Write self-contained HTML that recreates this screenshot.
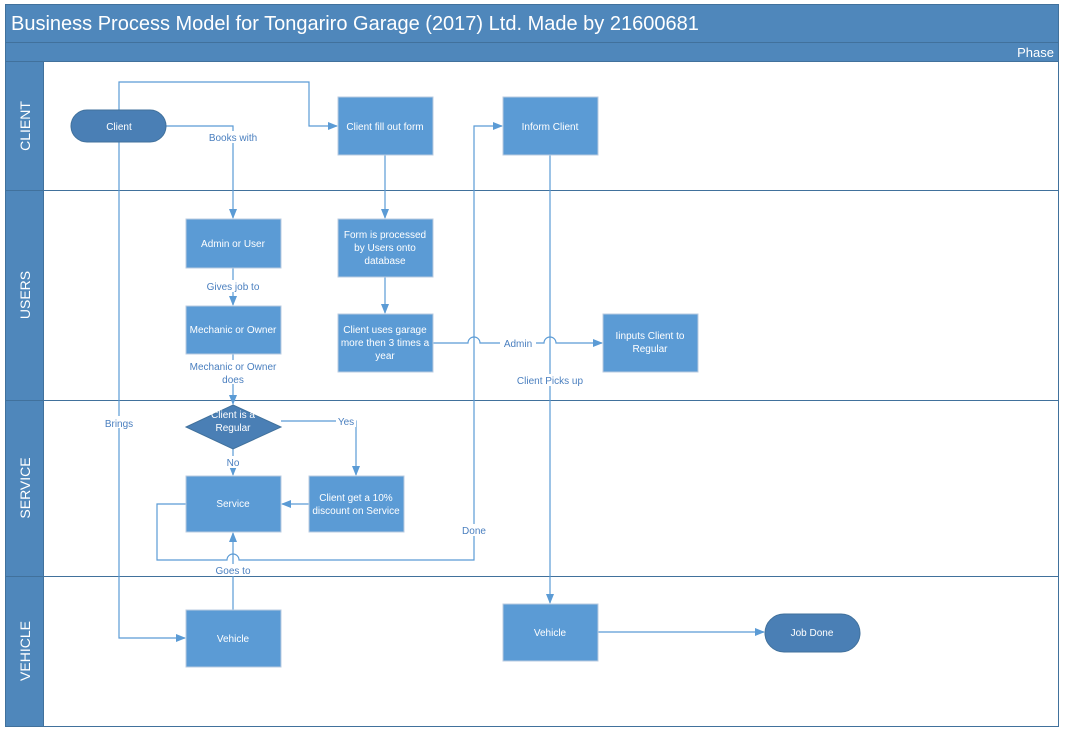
<!DOCTYPE html>
<html><head><style>
body{margin:0;background:#fff;}
svg{display:block;font-family:"Liberation Sans",sans-serif;}
.b{fill:#5b9bd5;stroke:#b9cbe0;stroke-width:1}
.t{fill:#fff;font-size:10px;text-anchor:middle}
.l{fill:none;stroke:#5b9bd5;stroke-width:1.2}
.lb{fill:#4a7fbf;font-size:10px;text-anchor:middle}
</style></head><body>
<svg width="1066" height="730" viewBox="0 0 1066 730">
<defs><marker id="a" markerWidth="10" markerHeight="10" refX="9" refY="5" orient="auto" markerUnits="userSpaceOnUse"><path d="M0,1 L10,5 L0,9z" fill="#5b9bd5"/></marker></defs>
<rect x="5.5" y="4.5" width="1053" height="722" fill="#fff" stroke="#41719c"/>
<rect x="5.5" y="4.5" width="1053" height="38" fill="#4f87bb" stroke="#41719c"/>
<text x="11" y="30" fill="#fff" font-size="20">Business Process Model for Tongariro Garage (2017) Ltd. Made by 21600681</text>
<rect x="5.5" y="42.5" width="1053" height="19" fill="#4f87bb" stroke="#41719c"/>
<text x="1054" y="57" fill="#fff" font-size="13" text-anchor="end">Phase</text>
<rect x="5.5" y="61.5" width="38" height="665" fill="#4f87bb" stroke="#41719c"/>
<g stroke="#41719c" stroke-width="1">
<line x1="5" y1="190.5" x2="1059" y2="190.5"/><line x1="5" y1="400.5" x2="1059" y2="400.5"/><line x1="5" y1="576.5" x2="1059" y2="576.5"/>
</g>
<g fill="#fff" font-size="14" text-anchor="middle">
<text transform="translate(30,126) rotate(-90)">CLIENT</text>
<text transform="translate(30,295) rotate(-90)">USERS</text>
<text transform="translate(30,488) rotate(-90)">SERVICE</text>
<text transform="translate(30,651) rotate(-90)">VEHICLE</text>
</g>
<path class="l" d="M119,110 V82 H309 V126 H337" marker-end="url(#a)"/>
<path class="l" d="M166,126 H233 V218" marker-end="url(#a)"/>
<path class="l" d="M119,142 V638 H185" marker-end="url(#a)"/>
<path class="l" d="M385,155 V218" marker-end="url(#a)"/>
<path class="l" d="M385,277 V313" marker-end="url(#a)"/>
<path class="l" d="M233,268 V305" marker-end="url(#a)"/>
<path class="l" d="M233,354 V404" marker-end="url(#a)"/>
<path class="l" d="M281,421 H356 V475" marker-end="url(#a)"/>
<path class="l" d="M233,449 V475" marker-end="url(#a)"/>
<path class="l" d="M309,504 H282" marker-end="url(#a)"/>
<path class="l" d="M186,504 H157 V560 H227 A6,6 0 0 1 239,560 H474 V126 H502" marker-end="url(#a)"/>
<path class="l" d="M233,610 V533" marker-end="url(#a)"/>
<path class="l" d="M550,155 V603" marker-end="url(#a)"/>
<path class="l" d="M433,343 H468 A6,6 0 0 1 480,343 H544 A6,6 0 0 1 556,343 H602" marker-end="url(#a)"/>
<path class="l" d="M598,632 H764" marker-end="url(#a)"/>
<g class="lb">
<rect x="205" y="131" width="56" height="12" fill="#fff"/><text x="233" y="141">Books with</text>
<rect x="102" y="416" width="34" height="12" fill="#fff"/><text x="119" y="427">Brings</text>
<rect x="203" y="280" width="60" height="12" fill="#fff"/><text x="233" y="290">Gives job to</text>
<rect x="188" y="360" width="90" height="24" fill="#fff"/><text x="233" y="370">Mechanic or Owner</text><text x="233" y="383">does</text>
<rect x="336" y="415" width="20" height="12" fill="#fff"/><text x="346" y="425">Yes</text>
<rect x="224" y="456" width="18" height="12" fill="#fff"/><text x="233" y="466">No</text>
<rect x="460" y="524" width="28" height="12" fill="#fff"/><text x="474" y="534">Done</text>
<rect x="213" y="564" width="40" height="12" fill="#fff"/><text x="233" y="574">Goes to</text>
<rect x="500" y="337" width="36" height="12" fill="#fff"/><text x="518" y="347">Admin</text>
<rect x="515" y="374" width="70" height="12" fill="#fff"/><text x="550" y="384">Client Picks up</text>
</g>
<rect x="71" y="110" width="95" height="32" rx="16" fill="#4a7fb5" stroke="#41719c"/><text class="t" x="119" y="130">Client</text>
<rect class="b" x="338" y="97" width="95" height="58"/><text class="t" x="385" y="130">Client fill out form</text>
<rect class="b" x="503" y="97" width="95" height="58"/><text class="t" x="550" y="130">Inform Client</text>
<rect class="b" x="186" y="219" width="95" height="49"/><text class="t" x="233" y="247">Admin or User</text>
<rect class="b" x="338" y="219" width="95" height="58"/><text class="t" x="385" y="238">Form is processed</text><text class="t" x="385" y="251">by Users onto</text><text class="t" x="385" y="264">database</text>
<rect class="b" x="186" y="306" width="95" height="48"/><text class="t" x="233" y="333">Mechanic or Owner</text>
<rect class="b" x="338" y="314" width="95" height="58"/><text class="t" x="385" y="333">Client uses garage</text><text class="t" x="385" y="346">more then 3 times a</text><text class="t" x="385" y="359">year</text>
<rect class="b" x="603" y="314" width="95" height="58"/><text class="t" x="650" y="339">Iinputs Client to</text><text class="t" x="650" y="352">Regular</text>
<path d="M233,405 L281,427 L233,449 L186,427z" fill="#4a7fb5" stroke="#41719c"/><text class="t" x="233" y="418">Client is a</text><text class="t" x="233" y="431">Regular</text>
<rect class="b" x="186" y="476" width="95" height="56"/><text class="t" x="233" y="507">Service</text>
<rect class="b" x="309" y="476" width="95" height="56"/><text class="t" x="356" y="501">Client get a 10%</text><text class="t" x="356" y="514">discount on Service</text>
<rect class="b" x="186" y="610" width="95" height="57"/><text class="t" x="233" y="642">Vehicle</text>
<rect class="b" x="503" y="604" width="95" height="57"/><text class="t" x="550" y="636">Vehicle</text>
<rect x="765" y="614" width="95" height="38" rx="19" fill="#4a7fb5" stroke="#41719c"/><text class="t" x="812" y="636">Job Done</text>
</svg>
</body></html>
